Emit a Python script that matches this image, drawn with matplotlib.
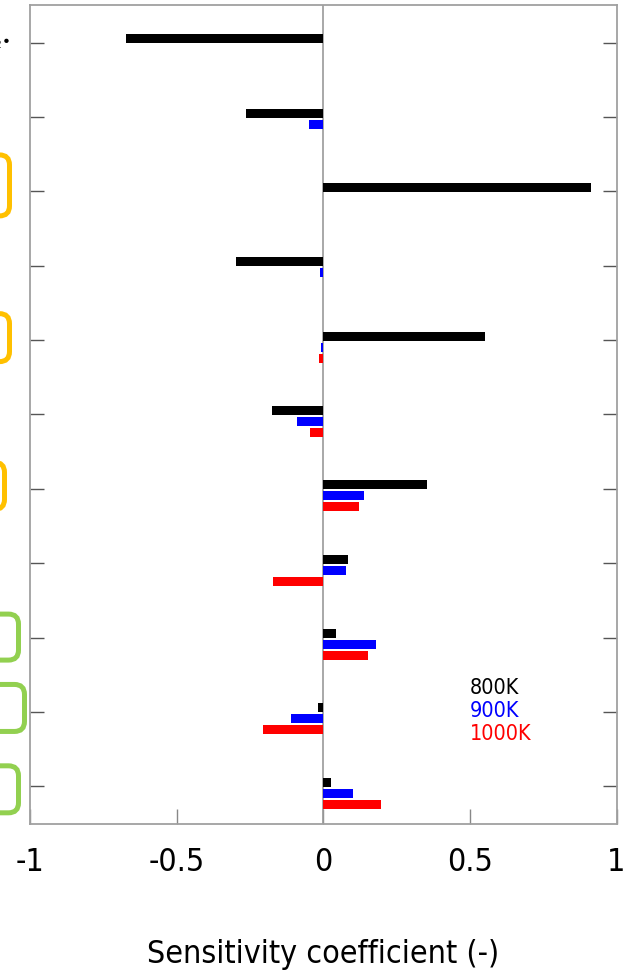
import numpy as np
import matplotlib
matplotlib.use("Agg")
from matplotlib import pyplot as plt
from matplotlib.patches import FancyBboxPatch
from matplotlib.transforms import IdentityTransform

# reactions, top to bottom
reactions = np.arange(11)
sens_800 = [-0.671, -0.263, 0.912, -0.298, 0.551, -0.174, 0.353, 0.083, 0.042, -0.018, 0.027]
sens_900 = [0.0, -0.050, 0.0, -0.012, -0.006, -0.088, 0.139, 0.076, 0.181, -0.111, 0.101]
sens_1000 = [0.0, 0.0, 0.0, 0.0, -0.013, -0.044, 0.122, -0.170, 0.151, -0.207, 0.198]
temps = ["800K", "900K", "1000K"]
colors = ["black", "blue", "red"]

# highlighted reactions: (index, colour, right edge px, height px, shift px)
highlights = [
    (2, "#FFC000", 9.5, 61, -6),
    (4, "#FFC000", 9.5, 48, -2.5),
    (6, "#FFC000", 4.5, 47, -3),
    (8, "#92D050", 18.5, 46, -0.5),
    (9, "#92D050", 24.5, 47, -4),
    (10, "#92D050", 18.5, 47, 3),
]

W, H = 641, 972
fig = plt.figure(figsize=(W / 100, H / 100), dpi=100)
ax = fig.add_axes([30 / W, 1 - 823.5 / H, 586.5 / W, 818 / H])

bar_h = 0.121
offsets = [-0.054, 0.094, 0.242]
for vals, off, c in zip([sens_800, sens_900, sens_1000], offsets, colors):
    ax.barh(reactions + off, vals, height=bar_h, color=c, edgecolor="none", zorder=3)

ax.axvline(0, color="#999999", lw=1.2, zorder=2)

ax.set_xlim(-1, 1)
ax.set_ylim(10.5, -0.5)
ax.set_xticks([-1, -0.5, 0, 0.5, 1])
ax.set_xticklabels(["-1", "-0.5", "0", "0.5", "1"])
ax.set_yticks(reactions)
ax.set_yticklabels([])
ax.tick_params(axis="x", direction="in", length=11, width=1, color="#888888",
               pad=17, labelsize=23)
ax.tick_params(axis="y", direction="in", length=10, width=1, color="#555555",
               left=True, right=True)
for sp in ax.spines.values():
    sp.set_color("#a0a0a0")
    sp.set_linewidth(1.3)
for lab in ax.get_xticklabels():
    lab.set_fontstretch("condensed")

ax.set_xlabel("Sensitivity coefficient (-)", fontsize=23, labelpad=44,
              fontstretch="condensed")

# temperature key
for i, (t, c) in enumerate(zip(temps, colors)):
    ax.text(0.5, 8.68 + 0.31 * i, t, color=c, fontsize=15.5, ha="left", va="center",
            fontstretch="condensed")

# reaction label tail at the top left edge
fig.text(11 / W, 1 - 42 / H, "HO$_2$•", fontsize=11, ha="right", va="center")

# coloured frames around reaction labels
fig.canvas.draw()
for idx, col, right, hgt, dy in highlights:
    yc = ax.transData.transform((0, idx))[1] - dy
    box = FancyBboxPatch((right - 90, yc - hgt / 2), 90, hgt,
                         boxstyle="round,pad=0,rounding_size=10",
                         transform=IdentityTransform(), fill=False,
                         edgecolor=col, lw=3.6, clip_on=False)
    fig.patches.append(box)

fig.savefig("out.png", dpi=100)
